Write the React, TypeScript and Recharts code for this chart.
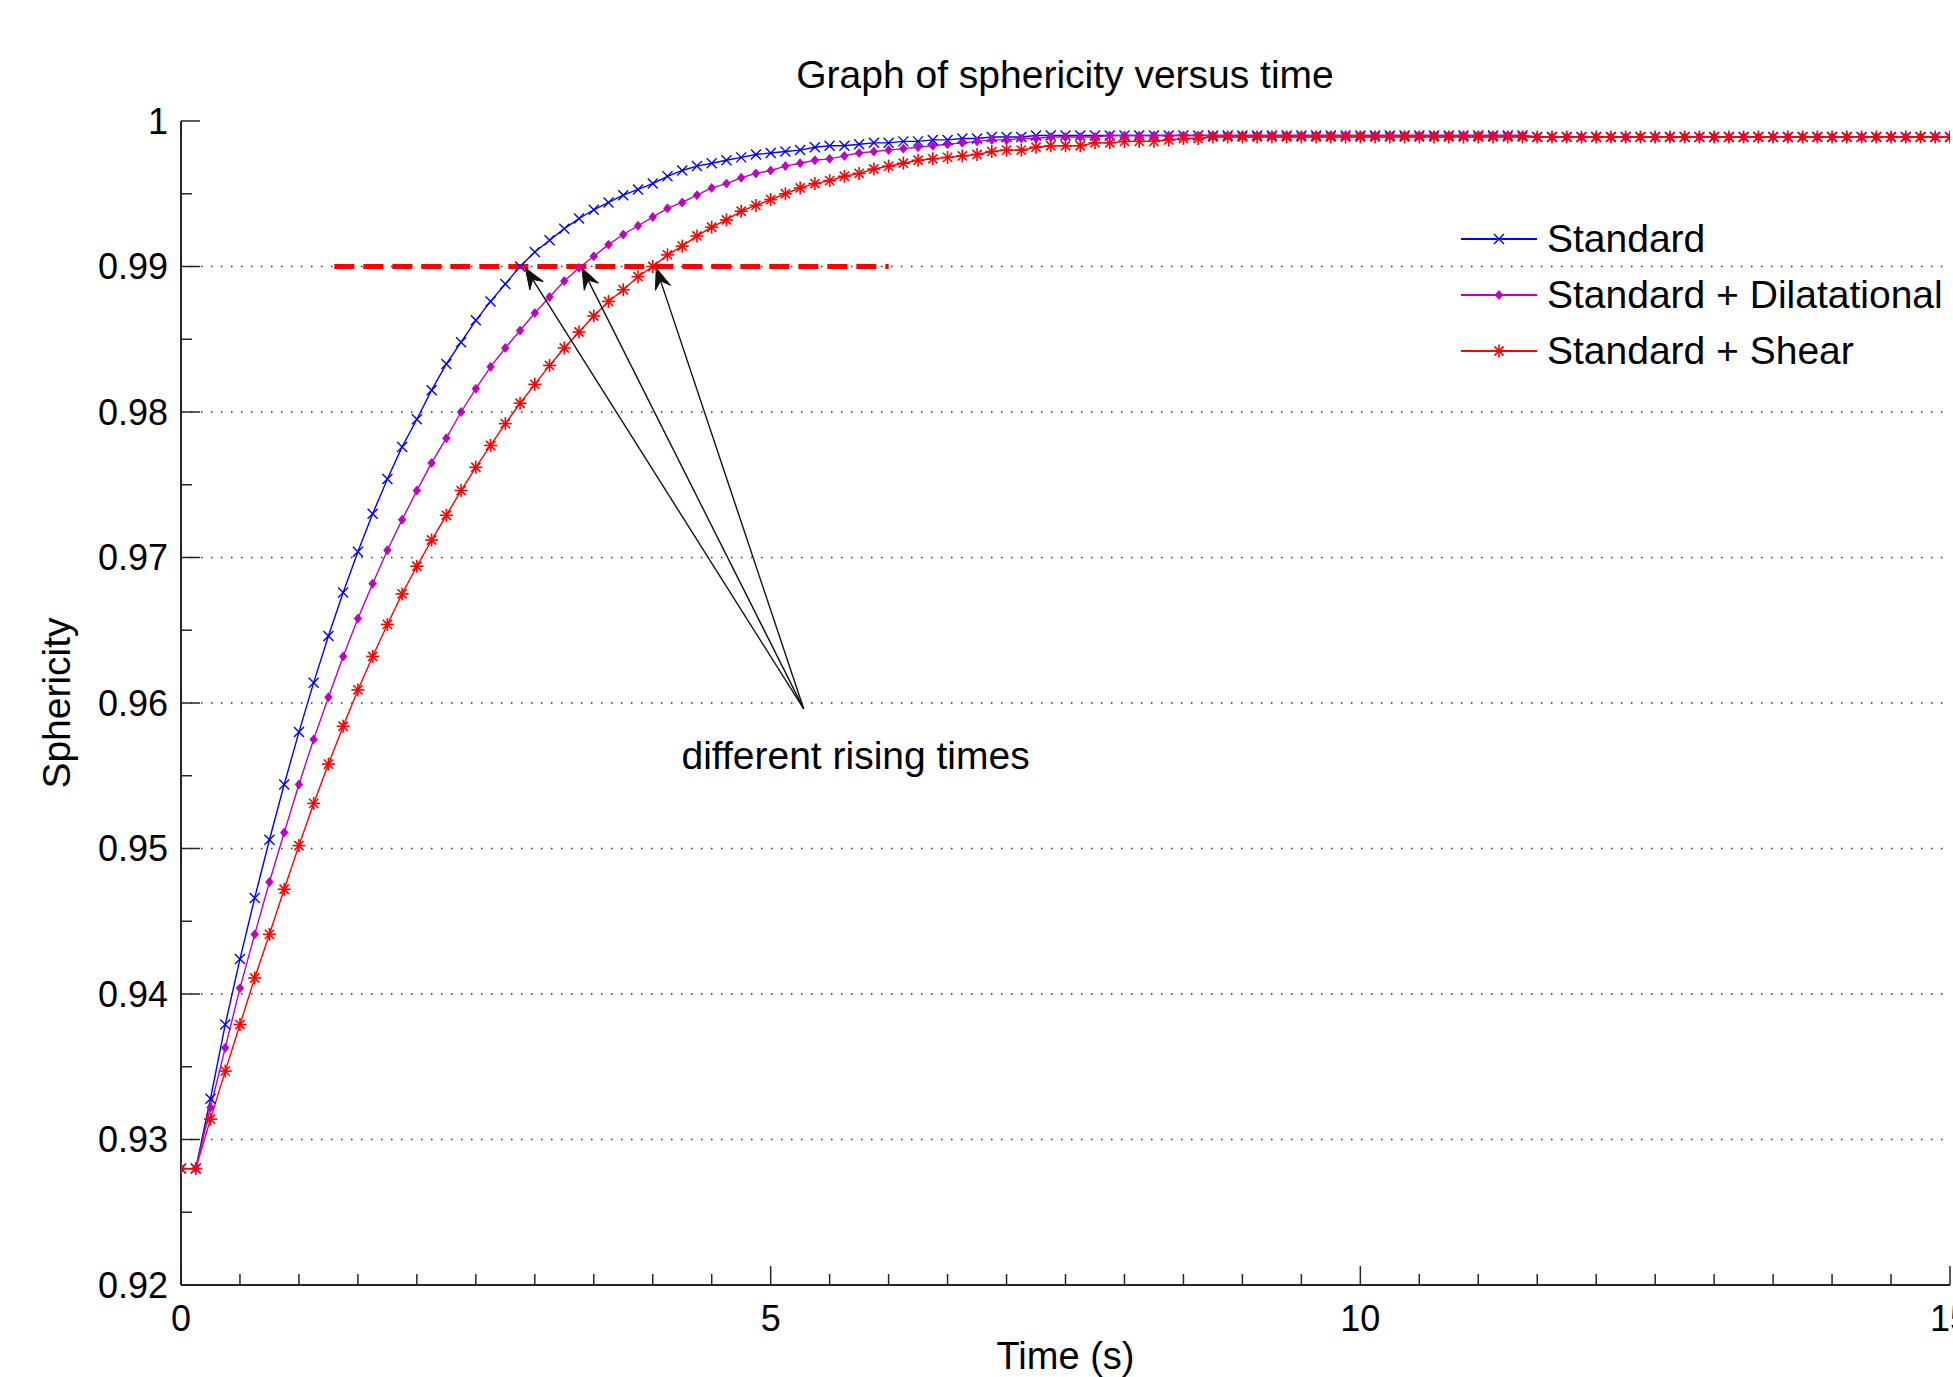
import React from 'react';
import { LineChart, Line, XAxis, YAxis, ReferenceLine, ReferenceDot, Label } from 'recharts';

// time samples (s)
const time = [
  0, 0.125, 0.25, 0.375, 0.5, 0.625, 0.75, 0.875,
  1, 1.125, 1.25, 1.375, 1.5, 1.625, 1.75, 1.875,
  2, 2.125, 2.25, 2.375, 2.5, 2.625, 2.75, 2.875,
  3, 3.125, 3.25, 3.375, 3.5, 3.625, 3.75, 3.875,
  4, 4.125, 4.25, 4.375, 4.5, 4.625, 4.75, 4.875,
  5, 5.125, 5.25, 5.375, 5.5, 5.625, 5.75, 5.875,
  6, 6.125, 6.25, 6.375, 6.5, 6.625, 6.75, 6.875,
  7, 7.125, 7.25, 7.375, 7.5, 7.625, 7.75, 7.875,
  8, 8.125, 8.25, 8.375, 8.5, 8.625, 8.75, 8.875,
  9, 9.125, 9.25, 9.375, 9.5, 9.625, 9.75, 9.875,
  10, 10.125, 10.25, 10.375, 10.5, 10.625, 10.75, 10.875,
  11, 11.125, 11.25, 11.375, 11.5, 11.625, 11.75, 11.875,
  12, 12.125, 12.25, 12.375, 12.5, 12.625, 12.75, 12.875,
  13, 13.125, 13.25, 13.375, 13.5, 13.625, 13.75, 13.875,
  14, 14.125, 14.25, 14.375, 14.5, 14.625, 14.75, 14.875,
  15,
];

const standard = [
  0.9280, 0.9280, 0.9328, 0.9379, 0.9424, 0.9466, 0.9506, 0.9544,
  0.9580, 0.9614, 0.9646, 0.9676, 0.9704, 0.9730, 0.9754, 0.9776,
  0.9795, 0.9815, 0.9833, 0.9848, 0.9863, 0.9876, 0.9888, 0.9900,
  0.9910, 0.9918, 0.9926, 0.9933, 0.9939, 0.9944, 0.9949, 0.9953,
  0.9957, 0.9962, 0.9966, 0.9969, 0.9971, 0.9973, 0.9975, 0.9977,
  0.9978, 0.9979, 0.9980, 0.9982, 0.9983, 0.9983, 0.9984, 0.9985,
  0.9985, 0.9986, 0.9986, 0.9987, 0.9987, 0.9988, 0.9988, 0.9989,
  0.9989, 0.9989, 0.9990, 0.9990, 0.9990, 0.9990, 0.9990, 0.9990,
  0.9990, 0.9990, 0.9990, 0.9990, 0.9990, 0.9990, 0.9990, 0.9990,
  0.9990, 0.9990, 0.9990, 0.9990, 0.9990, 0.9990, 0.9990, 0.9990,
  0.9990, 0.9990, 0.9990, 0.9990, 0.9990, 0.9990, 0.9990, 0.9990,
  0.9990, 0.9990, 0.9990, 0.9990, 0.9989, 0.9989, 0.9989, 0.9989,
  0.9989, 0.9989, 0.9989, 0.9989, 0.9989, 0.9989, 0.9989, 0.9989,
  0.9989, 0.9989, 0.9989, 0.9989, 0.9989, 0.9989, 0.9989, 0.9989,
  0.9989, 0.9989, 0.9989, 0.9989, 0.9989, 0.9989, 0.9989, 0.9989,
  0.9989,
];

const dilatational = [
  0.9280, 0.9280, 0.9322, 0.9363, 0.9404, 0.9441, 0.9477, 0.9511,
  0.9544, 0.9575, 0.9604, 0.9632, 0.9658, 0.9682, 0.9705, 0.9726,
  0.9746, 0.9765, 0.9782, 0.9800, 0.9816, 0.9831, 0.9844, 0.9856,
  0.9868, 0.9879, 0.9890, 0.9899, 0.9907, 0.9915, 0.9922, 0.9928,
  0.9934, 0.9940, 0.9944, 0.9949, 0.9954, 0.9957, 0.9961, 0.9964,
  0.9966, 0.9969, 0.9971, 0.9973, 0.9974, 0.9976, 0.9978, 0.9979,
  0.9980, 0.9981, 0.9982, 0.9983, 0.9984, 0.9985, 0.9986, 0.9987,
  0.9987, 0.9988, 0.9988, 0.9989, 0.9989, 0.9989, 0.9989, 0.9990,
  0.9990, 0.9990, 0.9990, 0.9990, 0.9990, 0.9990, 0.9990, 0.9990,
  0.9990, 0.9990, 0.9990, 0.9990, 0.9990, 0.9990, 0.9990, 0.9990,
  0.9990, 0.9990, 0.9990, 0.9990, 0.9990, 0.9990, 0.9990, 0.9990,
  0.9990, 0.9990, 0.9990, 0.9990, 0.9989, 0.9989, 0.9989, 0.9989,
  0.9989, 0.9989, 0.9989, 0.9989, 0.9989, 0.9989, 0.9989, 0.9989,
  0.9989, 0.9989, 0.9989, 0.9989, 0.9989, 0.9989, 0.9989, 0.9989,
  0.9989, 0.9989, 0.9989, 0.9989, 0.9989, 0.9989, 0.9989, 0.9989,
  0.9989,
];

const shear = [
  0.9280, 0.9280, 0.9314, 0.9347, 0.9379, 0.9411, 0.9441, 0.9472,
  0.9502, 0.9531, 0.9558, 0.9584, 0.9609, 0.9632, 0.9654, 0.9675,
  0.9694, 0.9712, 0.9729, 0.9746, 0.9762, 0.9777, 0.9792, 0.9806,
  0.9819, 0.9832, 0.9844, 0.9855, 0.9866, 0.9876, 0.9884, 0.9893,
  0.9900, 0.9908, 0.9914, 0.9921, 0.9927, 0.9932, 0.9938, 0.9942,
  0.9946, 0.9950, 0.9954, 0.9957, 0.9959, 0.9962, 0.9964, 0.9967,
  0.9969, 0.9971, 0.9973, 0.9974, 0.9975, 0.9976, 0.9977, 0.9979,
  0.9980, 0.9980, 0.9982, 0.9983, 0.9983, 0.9983, 0.9985, 0.9985,
  0.9986, 0.9986, 0.9986, 0.9987, 0.9988, 0.9988, 0.9989, 0.9989,
  0.9989, 0.9989, 0.9989, 0.9989, 0.9989, 0.9989, 0.9989, 0.9989,
  0.9989, 0.9989, 0.9989, 0.9989, 0.9989, 0.9989, 0.9989, 0.9989,
  0.9989, 0.9989, 0.9989, 0.9989, 0.9989, 0.9989, 0.9989, 0.9989,
  0.9989, 0.9989, 0.9989, 0.9989, 0.9989, 0.9989, 0.9989, 0.9989,
  0.9989, 0.9989, 0.9989, 0.9989, 0.9989, 0.9989, 0.9989, 0.9989,
  0.9989, 0.9989, 0.9989, 0.9989, 0.9989, 0.9989, 0.9989, 0.9989,
  0.9989,
];

const seriesNames = ['Standard', 'Standard + Dilatational', 'Standard + Shear'];
const seriesColors = ['#0000ff', '#bf00bf', '#ff0000'];

const xTicks = [0, 0.5, 1, 1.5, 2, 2.5, 3, 3.5, 4, 4.5, 5, 5.5, 6, 6.5, 7, 7.5, 8, 8.5, 9, 9.5, 10, 10.5, 11, 11.5, 12, 12.5, 13, 13.5, 14, 14.5, 15];
const xTickLabels = [0, 5, 10, 15];
const yTicks = [0.92, 0.925, 0.93, 0.935, 0.94, 0.945, 0.95, 0.955, 0.96, 0.965, 0.97, 0.975, 0.98, 0.985, 0.99, 0.995, 1];
const yTickLabels = [0.92, 0.93, 0.94, 0.95, 0.96, 0.97, 0.98, 0.99, 1];
const gridLevels = [0.93, 0.94, 0.95, 0.96, 0.97, 0.98, 0.99];

// 0.99 threshold marker and annotation
const threshold = { level: 0.99, from: 1.3, to: 6 };
const arrowTail = { t: 5.28, v: 0.9596 };
const arrowTips = [
  { t: 2.92, v: 0.9899 },
  { t: 3.4, v: 0.9899 },
  { t: 4.03, v: 0.9899 },
];
const note = { t: 5.72, v: 0.9564, text: 'different rising times' };

const rows = time.map((t, i) => ({ t, standard: standard[i], dilatational: dilatational[i], shear: shear[i] }));

const AXIS = '#262626';
const FONT = '"Liberation Sans", Arial, Helvetica, sans-serif';
const MAJOR = 19;
const MINOR = 11;
const has = (list: number[], v: number) => list.some((l) => Math.abs(l - v) < 1e-9);

function CrossMark({ cx, cy, color }: any) {
  const s = 5;
  return (
    <g stroke={color} strokeWidth={1.4}>
      <line x1={cx - s} y1={cy - s} x2={cx + s} y2={cy + s} />
      <line x1={cx - s} y1={cy + s} x2={cx + s} y2={cy - s} />
    </g>
  );
}

function DiamondMark({ cx, cy, color }: any) {
  return <polygon points={`${cx},${cy - 4.5} ${cx + 3.8},${cy} ${cx},${cy + 4.5} ${cx - 3.8},${cy}`} fill={color} stroke={color} strokeWidth={0.8} />;
}

function StarMark({ cx, cy, color }: any) {
  const s = 6.5;
  const d = 4.6;
  return (
    <g stroke={color} strokeWidth={1.6}>
      <line x1={cx - s} y1={cy} x2={cx + s} y2={cy} />
      <line x1={cx} y1={cy - s} x2={cx} y2={cy + s} />
      <line x1={cx - d} y1={cy - d} x2={cx + d} y2={cy + d} />
      <line x1={cx - d} y1={cy + d} x2={cx + d} y2={cy - d} />
    </g>
  );
}

const markers = [CrossMark, DiamondMark, StarMark];

function BottomTick({ x, y, payload }: any) {
  const major = has(xTickLabels, payload.value);
  return (
    <g>
      <line x1={x} y1={y} x2={x} y2={y - (major ? MAJOR : MINOR)} stroke={AXIS} strokeWidth={1.5} />
      {major && (
        <text x={x} y={y + 33} textAnchor="middle" dominantBaseline="central" fontSize={36} fill="#000" fontFamily={FONT}>
          {payload.value}
        </text>
      )}
    </g>
  );
}

function TopTick({ x, y, payload }: any) {
  const major = has(xTickLabels, payload.value);
  return <line x1={x} y1={y} x2={x} y2={y + (major ? MAJOR : MINOR)} stroke={AXIS} strokeWidth={1.5} />;
}

function LeftTick({ x, y, payload }: any) {
  const major = has(yTickLabels, payload.value);
  return (
    <g>
      <line x1={x} y1={y} x2={x + (major ? MAJOR : MINOR)} y2={y} stroke={AXIS} strokeWidth={1.5} />
      {major && (
        <text x={x - 13} y={y} textAnchor="end" dominantBaseline="central" fontSize={36} fill="#000" fontFamily={FONT}>
          {String(payload.value)}
        </text>
      )}
    </g>
  );
}

function RightTick({ x, y, payload }: any) {
  const major = has(yTickLabels, payload.value);
  return <line x1={x} y1={y} x2={x - (major ? MAJOR : MINOR)} y2={y} stroke={AXIS} strokeWidth={1.5} />;
}

function Arrow(props: any) {
  const { x1, y1, x2, y2 } = props;
  const len = Math.hypot(x2 - x1, y2 - y1);
  const ux = (x2 - x1) / len;
  const uy = (y2 - y1) / len;
  const nx = -uy;
  const ny = ux;
  const L = 21;
  const W = 8;
  const bx = x2 - L * ux;
  const by = y2 - L * uy;
  const head = `${x2},${y2} ${bx + W * nx},${by + W * ny} ${x2 - 0.65 * L * ux},${y2 - 0.65 * L * uy} ${bx - W * nx},${by - W * ny}`;
  return (
    <g>
      <line x1={x1} y1={y1} x2={x2 - 0.65 * L * ux} y2={y2 - 0.65 * L * uy} stroke="#111" strokeWidth={1.4} />
      <polygon points={head} fill="#111" stroke="#111" strokeWidth={1} />
    </g>
  );
}

function NoteText(props: any) {
  return (
    <text x={props.cx} y={props.cy} textAnchor="middle" dominantBaseline="central" fontSize={39} fill="#000" fontFamily={FONT}>
      {note.text}
    </text>
  );
}

function LegendBox() {
  return (
    <div style={{ position: 'absolute', left: 1461, top: 211, fontFamily: FONT, fontSize: 39, color: '#000', whiteSpace: 'nowrap' }}>
      {seriesNames.map((name, i) => {
        const M = markers[i];
        return (
          <div key={name} style={{ display: 'flex', alignItems: 'center', height: 56 }}>
            <svg width={76} height={56} style={{ display: 'block' }}>
              <line x1={0} y1={28} x2={76} y2={28} stroke={seriesColors[i]} strokeWidth={2} />
              <M cx={38} cy={28} color={seriesColors[i]} />
            </svg>
            <span style={{ marginLeft: 10, lineHeight: '56px' }}>{name}</span>
          </div>
        );
      })}
    </div>
  );
}

export default function App() {
  const keys = ['standard', 'dilatational', 'shear'];
  return (
    <div style={{ position: 'absolute', left: 0, top: 0, width: 1953, height: 1377, overflow: 'hidden', background: '#fff', fontFamily: FONT }}>
      <div style={{ position: 'absolute', left: 0, top: 52, width: 2130, textAlign: 'center', fontSize: 39, lineHeight: '46px', color: '#000' }}>
        Graph of sphericity versus time
      </div>
      <LineChart width={1953} height={1377} data={rows} margin={{ top: 121, right: 3, bottom: 0, left: 0 }}>
        <XAxis xAxisId="top" orientation="top" type="number" domain={[0, 15]} allowDataOverflow ticks={xTicks} interval={0}
          height={0} tickSize={0} tickMargin={0} tickLine={false} tick={<TopTick />} axisLine={{ stroke: AXIS, strokeWidth: 2 }} />
        <YAxis yAxisId="right" orientation="right" type="number" domain={[0.92, 1]} allowDataOverflow ticks={yTicks} interval={0}
          width={0} tickSize={0} tickMargin={0} tickLine={false} tick={<RightTick />} axisLine={{ stroke: AXIS, strokeWidth: 2 }} />
        <XAxis dataKey="t" type="number" domain={[0, 15]} allowDataOverflow ticks={xTicks} interval={0}
          height={92} tickSize={0} tickMargin={0} tickLine={false} tick={<BottomTick />} axisLine={{ stroke: AXIS, strokeWidth: 2 }}>
          <Label content={(p: any) => (
            <text x={p.viewBox.x + p.viewBox.width / 2} y={p.viewBox.y + 71} textAnchor="middle" dominantBaseline="central" fontSize={38} fill="#000" fontFamily={FONT}>
              Time (s)
            </text>
          )} />
        </XAxis>
        <YAxis type="number" domain={[0.92, 1]} allowDataOverflow ticks={yTicks} interval={0}
          width={181} tickSize={0} tickMargin={0} tickLine={false} tick={<LeftTick />} axisLine={{ stroke: AXIS, strokeWidth: 2 }}>
          <Label content={(p: any) => {
            const cy = p.viewBox.y + p.viewBox.height / 2;
            return (
              <text x={56} y={cy} transform={`rotate(-90, 56, ${cy})`} textAnchor="middle" dominantBaseline="central" fontSize={39} fill="#000" fontFamily={FONT}>
                Sphericity
              </text>
            );
          }} />
        </YAxis>
        {gridLevels.map((v) => (
          <ReferenceLine key={v} y={v} stroke="#333" strokeWidth={1.5} strokeDasharray="1.5 8.5" />
        ))}
        {keys.map((k, i) => {
          const M = markers[i];
          return (
            <Line key={k} dataKey={k} name={seriesNames[i]} type="linear" stroke={seriesColors[i]} strokeWidth={1.4}
              isAnimationActive={false} activeDot={false}
              dot={(p: any) => <M key={`${k}-${p.index}`} cx={p.cx} cy={p.cy} color={seriesColors[i]} />} />
          );
        })}
        <ReferenceLine segment={[{ x: threshold.from, y: threshold.level }, { x: threshold.to, y: threshold.level }]}
          stroke="#ff0000" strokeWidth={5} strokeDasharray="20 9" />
        {arrowTips.map((tip, i) => (
          <ReferenceLine key={`arrow-${i}`} segment={[{ x: arrowTail.t, y: arrowTail.v }, { x: tip.t, y: tip.v }]} shape={<Arrow />} />
        ))}
        <ReferenceDot x={note.t} y={note.v} r={1} shape={<NoteText />} />
      </LineChart>
      <LegendBox />
    </div>
  );
}
